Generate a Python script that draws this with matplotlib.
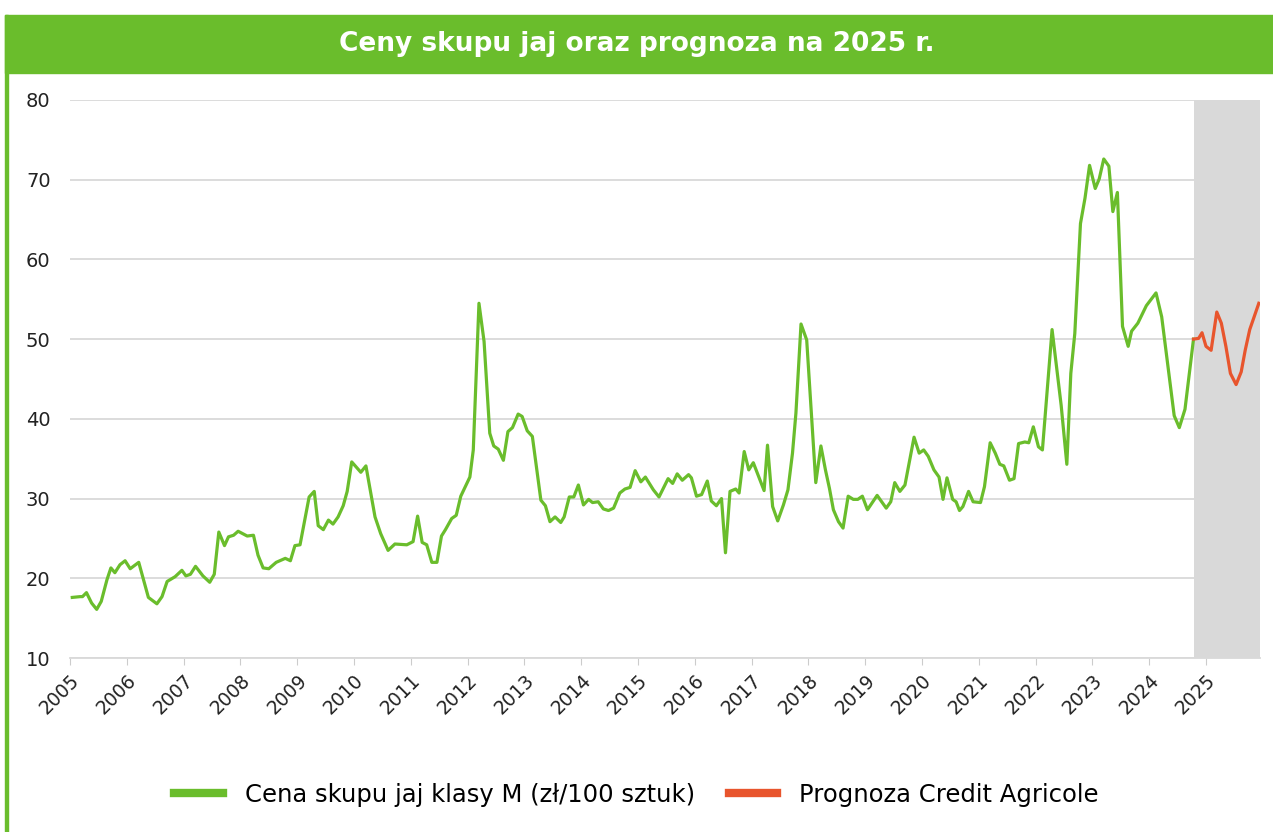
import matplotlib.pyplot as plt
from matplotlib.patches import Rectangle

# Data (decimal year, price zl/100 eggs)
green_t = [2005.04, 2005.18, 2005.22, 2005.29, 2005.38, 2005.47, 2005.55, 2005.65, 2005.72, 2005.79,
           2005.88, 2005.97, 2006.06, 2006.21, 2006.38, 2006.53, 2006.62, 2006.71, 2006.85, 2006.97,
           2007.04, 2007.12, 2007.21, 2007.34, 2007.46, 2007.54, 2007.62, 2007.72, 2007.79, 2007.88,
           2007.96, 2008.12, 2008.23, 2008.31, 2008.40, 2008.50, 2008.63, 2008.79, 2008.88, 2008.96,
           2009.05, 2009.21, 2009.30, 2009.37, 2009.46, 2009.55, 2009.63, 2009.72, 2009.81, 2009.88,
           2009.96, 2010.12, 2010.21, 2010.37, 2010.47, 2010.60, 2010.72, 2010.93, 2011.04, 2011.12,
           2011.20, 2011.28, 2011.37, 2011.46, 2011.54, 2011.61, 2011.72, 2011.80, 2011.88, 2011.96,
           2012.04, 2012.10, 2012.20, 2012.29, 2012.39, 2012.46, 2012.54, 2012.63, 2012.71, 2012.79,
           2012.89, 2012.96, 2013.05, 2013.14, 2013.29, 2013.37, 2013.45, 2013.54, 2013.64, 2013.70,
           2013.79, 2013.87, 2013.95, 2014.04, 2014.13, 2014.20, 2014.30, 2014.39, 2014.48, 2014.57,
           2014.68, 2014.77, 2014.86, 2014.95, 2015.05, 2015.13, 2015.27, 2015.37, 2015.53, 2015.61,
           2015.69, 2015.78, 2015.89, 2015.94, 2016.03, 2016.12, 2016.22, 2016.29, 2016.38, 2016.47,
           2016.54, 2016.62, 2016.72, 2016.78, 2016.87, 2016.95, 2017.03, 2017.22, 2017.28, 2017.37,
           2017.46, 2017.56, 2017.64, 2017.72, 2017.78, 2017.87, 2017.97, 2018.13, 2018.22, 2018.30,
           2018.37, 2018.44, 2018.53, 2018.61, 2018.70, 2018.79, 2018.87, 2018.95, 2019.04, 2019.21,
           2019.37, 2019.45, 2019.52, 2019.61, 2019.70, 2019.86, 2019.95, 2020.03, 2020.11, 2020.21,
           2020.30, 2020.37, 2020.44, 2020.54, 2020.60, 2020.66, 2020.72, 2020.82, 2020.90, 2021.03,
           2021.10, 2021.20, 2021.29, 2021.37, 2021.44, 2021.54, 2021.62, 2021.70, 2021.81, 2021.88,
           2021.96, 2022.05, 2022.12, 2022.29, 2022.45, 2022.55, 2022.62, 2022.69, 2022.79, 2022.87,
           2022.95, 2023.05, 2023.12, 2023.20, 2023.29, 2023.36, 2023.44, 2023.53, 2023.63, 2023.69,
           2023.80, 2023.95, 2024.12, 2024.22, 2024.44, 2024.53, 2024.63, 2024.78]
green_v = [17.6, 17.7, 17.7, 18.2, 16.9, 16.1, 17.1, 19.8, 21.3, 20.7,
           21.7, 22.2, 21.2, 22.0, 17.6, 16.8, 17.7, 19.6, 20.2, 21.0,
           20.3, 20.5, 21.5, 20.3, 19.5, 20.5, 25.8, 24.1, 25.2, 25.4,
           25.9, 25.3, 25.4, 22.9, 21.3, 21.2, 22.0, 22.5, 22.2, 24.1,
           24.2, 30.2, 30.9, 26.6, 26.1, 27.3, 26.8, 27.7, 29.1, 30.9,
           34.6, 33.3, 34.1, 27.7, 25.6, 23.5, 24.3, 24.2, 24.6, 27.8,
           24.5, 24.2, 22.0, 22.0, 25.3, 26.1, 27.5, 27.9, 30.3, 31.5,
           32.7, 36.1, 54.5, 49.7, 38.2, 36.6, 36.2, 34.8, 38.4, 38.9,
           40.6, 40.3, 38.5, 37.8, 29.8, 29.1, 27.1, 27.7, 27.0, 27.7,
           30.2, 30.2, 31.7, 29.2, 29.9, 29.5, 29.6, 28.7, 28.5, 28.8,
           30.7, 31.2, 31.4, 33.5, 32.1, 32.7, 31.1, 30.2, 32.5, 31.9,
           33.1, 32.3, 33.0, 32.6, 30.3, 30.5, 32.2, 29.7, 29.1, 30.0,
           23.2, 30.9, 31.2, 30.7, 35.9, 33.6, 34.5, 31.0, 36.7, 29.0,
           27.2, 29.2, 31.1, 35.7, 40.7, 51.9, 49.9, 32.0, 36.6, 33.6,
           31.3, 28.6, 27.1, 26.3, 30.3, 29.9, 29.9, 30.3, 28.6, 30.4,
           28.8, 29.6, 32.0, 30.9, 31.7, 37.7, 35.7, 36.1, 35.3, 33.6,
           32.7, 29.9, 32.6, 29.9, 29.6, 28.5, 29.0, 30.9, 29.6, 29.5,
           31.5, 37.0, 35.7, 34.3, 34.1, 32.3, 32.5, 36.9, 37.1, 37.0,
           39.0, 36.5, 36.1, 51.2, 41.7, 34.3, 45.7, 50.7, 64.5, 67.7,
           71.8, 68.9, 70.1, 72.6, 71.7, 66.0, 68.4, 51.6, 49.1, 51.0,
           52.0, 54.2, 55.8, 52.8, 40.4, 38.9, 41.2, 50.0]

red_t = [2024.78, 2024.87, 2024.93, 2025.00, 2025.09, 2025.19, 2025.27, 2025.35, 2025.43,
         2025.53, 2025.62, 2025.69, 2025.77, 2025.93]
red_v = [50.0, 50.1, 50.8, 49.1, 48.6, 53.4, 52.0, 49.1, 45.7,
         44.3, 45.9, 48.6, 51.2, 54.5]

years = list(range(2005, 2026))
y_ticks = [10, 20, 30, 40, 50, 60, 70, 80]

GREEN = "#6abd2c"
RED = "#e8552d"
BANNER = "#6abd2c"

fig = plt.figure(figsize=(12.73, 8.32), dpi=100)

# Title banner and left border
fig.patches.append(Rectangle((5 / 1273, 1 - 73 / 832), 1, 58 / 832, transform=fig.transFigure,
                             color=BANNER, zorder=0))
fig.patches.append(Rectangle((5 / 1273, 0), 3 / 1273, 1 - 15 / 832, transform=fig.transFigure,
                             color=BANNER, zorder=0))
fig.text(0.5, 1 - 44 / 832, "Ceny skupu jaj oraz prognoza na 2025 r.", color="white",
         fontsize=19, fontweight="bold", ha="center", va="center")

ax = fig.add_axes([70 / 1273, 1 - 658 / 832, 1190 / 1273, 558 / 832])
ax.set_xlim(2005, 2005 + 1190 / 56.8)
ax.set_ylim(10, 80)

ax.axvspan(red_t[0], ax.get_xlim()[1], color="#d9d9d9", lw=0, zorder=1)
ax.plot(green_t, green_v, color=GREEN, lw=2.3, zorder=3, label="Cena skupu jaj klasy M (zł/100 sztuk)")
ax.plot(red_t, red_v, color=RED, lw=2.3, zorder=3, label="Prognoza Credit Agricole")

ax.set_yticks(y_ticks)
ax.set_xticks(years)
ax.set_xticklabels([str(y) for y in years], rotation=45, ha="right", rotation_mode="anchor")
ax.tick_params(axis="y", length=0, pad=14, labelsize=14, labelcolor="#222222")
ax.tick_params(axis="x", length=5, color="#cccccc", pad=4, labelsize=13.5, labelcolor="#222222")
ax.grid(axis="y", color="#d9d9d9", lw=1.3, zorder=0)
for s in ["top", "right", "left"]:
    ax.spines[s].set_visible(False)
ax.spines["bottom"].set_color("#d9d9d9")
ax.spines["bottom"].set_linewidth(1.3)

leg = fig.legend(loc="center", bbox_to_anchor=(0.5, 1 - 795 / 832), ncol=2, frameon=False,
                 fontsize=17.5, handlelength=2.0, handletextpad=0.9, columnspacing=1.4)
for h in leg.get_lines():
    h.set_linewidth(6)

fig.savefig("out.png", dpi=100)
